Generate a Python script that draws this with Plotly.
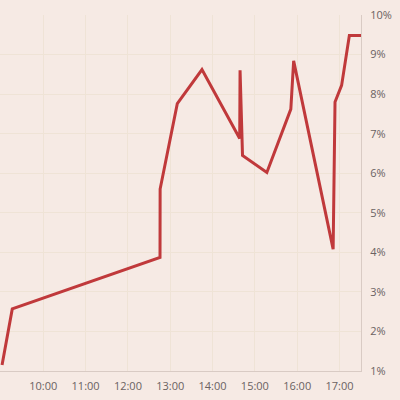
"""Intraday percentage line, right-hand axis."""

import plotly.graph_objects as go

DAY = "2024-01-01 "

times = ["09:01:30", "09:16:00", "12:45:30", "12:45:40", "13:10:00", "13:45:00",
         "14:38:30", "14:39:00", "14:42:30", "15:17:00", "15:51:00", "15:55:00",
         "16:51:00", "16:53:40", "17:03:00", "17:14:00", "17:31:00"]
values = [1.15, 2.57, 3.87, 5.6, 7.76, 8.62,
          6.88, 8.6, 6.45, 6.02, 7.62, 8.84,
          4.08, 7.8, 8.22, 9.48, 9.48]

hour_ticks = [f"{h}:00" for h in range(10, 18)]
pct_ticks = list(range(1, 11))

_BG = "#f6eae4"
_GRID = "#efe3d6"
_AXIS = "#d9cbc4"
_INK = "#6a6262"
_LINE = "#c0393b"

fig = go.Figure(go.Scatter(
    x=[DAY + t for t in times], y=values, mode="lines",
    line=dict(color=_LINE, width=3),
    hoverinfo="skip",
))

fig.update_layout(
    width=400, height=400,
    paper_bgcolor=_BG, plot_bgcolor=_BG,
    showlegend=False,
    margin=dict(l=0, r=39, t=15, b=29),
    font=dict(family="Open Sans, sans-serif", size=11, color=_INK),
    xaxis=dict(
        range=[DAY + "08:58:36", DAY + "17:30:30"],
        tickvals=[DAY + h for h in hour_ticks],
        ticktext=[h.zfill(5) for h in hour_ticks],
        showgrid=True, gridcolor=_GRID, gridwidth=1,
        showline=True, linecolor=_AXIS, linewidth=1,
        zeroline=False, ticks="", ticklabelstandoff=5,
        automargin=False,
    ),
    yaxis=dict(
        side="right", range=[1, 10],
        tickvals=pct_ticks, ticktext=[f"{p}%" for p in pct_ticks],
        showgrid=True, gridcolor=_GRID, gridwidth=1,
        showline=True, linecolor=_AXIS, linewidth=1,
        zeroline=False, ticks="", ticklabelstandoff=6,
        automargin=False,
    ),
)

# page body has an 8px default margin; drop it so the chart sits at 0,0
fig.write_html("out.html", config={"displayModeBar": False},
               post_script="document.body.style.margin='0';")
